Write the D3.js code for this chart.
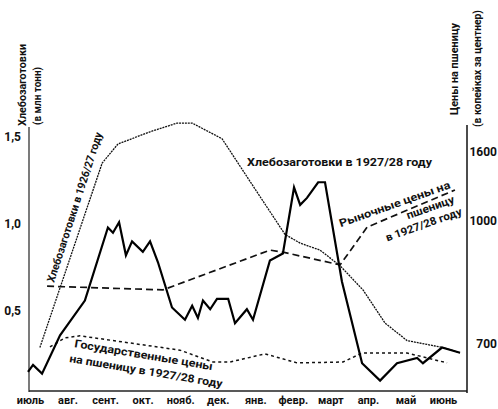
<!DOCTYPE html>
<html><head><meta charset="utf-8">
<script src="https://cdn.jsdelivr.net/npm/d3@7"></script>
<style>
body{margin:0;background:#fff}
svg{display:block}
text{font-family:Roboto,"Noto Sans",sans-serif;font-weight:700;fill:#111}
</style>
</head><body><svg id="c" width="498" height="409"></svg>
<script>
// ---- data ----
const months = ["июль","авг.","сент.","окт.","нояб.","дек.","янв.","февр.","март","апр.","май","июнь"];
const leftTicks = [0.5, 1.0, 1.5];          // млн тонн
const rightTicks = [700, 1000, 1600];        // копеек за центнер
// [month position (0 = start of July, 12 = end of June), value]
const procurement1927 = [[0,0.15],[0.14,0.19],[0.39,0.14],[0.89,0.36],[1.58,0.56],[2.22,0.98],[2.36,0.95],[2.53,1.01],
  [2.72,0.82],[2.89,0.90],[3.19,0.84],[3.39,0.90],[3.61,0.78],[4.0,0.52],[4.36,0.45],[4.56,0.53],[4.72,0.46],[4.86,0.56],
  [5.06,0.51],[5.25,0.57],[5.56,0.57],[5.75,0.43],[6.08,0.51],[6.25,0.45],[6.72,0.79],[7.08,0.83],[7.39,1.21],[7.56,1.11],
  [7.75,1.15],[8.06,1.24],[8.25,1.24],[8.72,0.67],[9.28,0.20],[9.78,0.10],[10.25,0.20],[10.81,0.23],[10.97,0.20],[11.5,0.29],[12,0.26]];
const procurement1926 = [[0.33,0.29],[2.06,1.35],[2.5,1.46],[3.39,1.53],[4.14,1.58],[4.56,1.58],[5.39,1.49],[6.31,1.20],
  [7.14,0.94],[7.56,0.89],[8.11,0.85],[8.67,0.76],[9.31,0.62],[9.92,0.43],[10.53,0.33],[11.53,0.29],[12,0.26]];
const marketPrice = [[0.53,841],[3.75,832],[6.72,929],[7.08,924],[8.67,893],[9.42,985],[11.86,1270]];
const statePrice = [[0.61,693],[1.03,715],[1.44,720],[4.22,685],[5.14,656],[5.61,656],[6.58,676],[7.47,654],[8.75,656],
  [9.28,678],[10.53,678],[11.64,654]];

// ---- chart ----
const svg = d3.select("#c");
const x = d3.scaleLinear().domain([0,12]).range([28,460]);
const yL = d3.scaleLinear().domain([0,1.5]).range([398,137]);
const yR = d3.scaleLinear().domain([700,1000,1600]).range([344,221,152]);
const xl = d3.scalePoint().domain(months).range([30,443]);

// frame
svg.append("line").attr("x1",29).attr("x2",29).attr("y1",127).attr("y2",392).attr("stroke","#333").attr("stroke-width",1.3);
svg.append("line").attr("x1",29).attr("x2",467).attr("y1",391).attr("y2",391).attr("stroke","#222").attr("stroke-width",1.3);
svg.append("line").attr("x1",467).attr("x2",467).attr("y1",125).attr("y2",393).attr("stroke","#111").attr("stroke-width",1.5);

// axes
const gl = svg.append("g").attr("transform","translate(29,0)")
  .call(d3.axisLeft(yL).tickValues(leftTicks).tickSize(0).tickPadding(8)
    .tickFormat(d => d3.format(".1f")(d).replace(".",",")));
gl.select(".domain").remove();
gl.attr("font-family",null).attr("font-size",12);

const gr = svg.append("g").attr("transform","translate(467,0)")
  .call(d3.axisRight(yR).tickValues(rightTicks).tickSize(0).tickFormat(d3.format("d")));
gr.select(".domain").remove();
gr.attr("font-family",null).attr("font-size",12);
gr.selectAll("text").attr("text-anchor","end").attr("x",30);

const gx = svg.append("g").attr("transform","translate(0,391)")
  .call(d3.axisBottom(xl).tickSize(0).tickPadding(5));
gx.select(".domain").remove();
gx.attr("font-family",null).attr("font-size",11);

// lines
const lineL = d3.line().x(d => x(d[0])).y(d => yL(d[1]));
const lineR = d3.line().x(d => x(d[0])).y(d => yR(d[1]));

svg.append("path").datum(procurement1926).attr("d",lineL).attr("fill","none")
  .attr("stroke","#111").attr("stroke-width",1.3).attr("stroke-dasharray","2,0.9");
svg.append("path").datum(statePrice).attr("d",lineR).attr("fill","none")
  .attr("stroke","#111").attr("stroke-width",1.5).attr("stroke-dasharray","3,3");
svg.append("path").datum(marketPrice).attr("d",lineR).attr("fill","none")
  .attr("stroke","#111").attr("stroke-width",1.7).attr("stroke-dasharray","7,4");
svg.append("path").datum(procurement1927).attr("d",lineL).attr("fill","none")
  .attr("stroke","#000").attr("stroke-width",2.2).attr("stroke-linejoin","miter");

// axis titles
function vtext(xb, yb, str, len, fs){
  svg.append("text").attr("transform",`translate(${xb},${yb}) rotate(-90)`)
    .attr("font-size",fs).attr("textLength",len).attr("lengthAdjust","spacingAndGlyphs").text(str);
}
vtext(26,126,"Хлебозаготовки",82,10.5);
vtext(41,125,"(в млн тонн)",58,10);
vtext(458,115,"Цены на пшеницу",92,10.5);
vtext(481,127,"(в копейках за центнер)",117,10);

// annotations
function label(tx, ty, rot, lines, fs){
  const g = svg.append("g").attr("transform",`translate(${tx},${ty}) rotate(${rot})`);
  lines.forEach(l => {
    g.append("text").attr("x",l.x).attr("y",l.y).attr("font-size",fs)
      .attr("text-anchor",l.anchor||"start")
      .attr("textLength",l.len).attr("lengthAdjust","spacingAndGlyphs").text(l.t);
  });
}
label(54,283,-72,[{t:"Хлебозаготовки в 1926/27 году",x:0,y:0,len:157}],11);
label(247,166,0,[{t:"Хлебозаготовки в 1927/28 году",x:0,y:0,len:185}],11);
label(451,188,-19.6,[
  {t:"Рыночные цены на",x:0,y:0,len:117,anchor:"end"},
  {t:"пшеницу",x:-1,y:15,len:50,anchor:"end"},
  {t:"в 1927/28 году",x:2,y:29,len:80,anchor:"end"}],11);
label(74,347,9.5,[
  {t:"Государственные цены",x:0,y:0,len:140},
  {t:"на пшеницу в 1927/28 году",x:-2.5,y:15.6,len:155}],11);
</script>
</body></html>
